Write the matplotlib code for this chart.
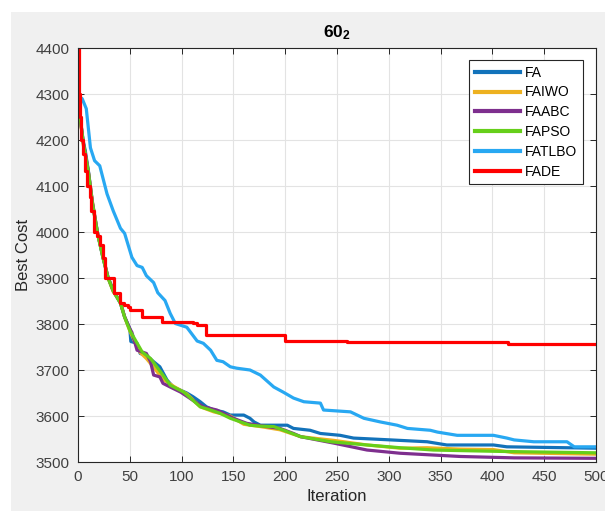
import matplotlib.pyplot as plt
from matplotlib.patches import Rectangle

plt.rcParams['font.family'] = ['Liberation Sans', 'DejaVu Sans']
plt.rcParams['mathtext.fontset'] = 'custom'
plt.rcParams['mathtext.rm'] = 'Liberation Sans'
plt.rcParams['mathtext.bf'] = 'Liberation Sans:bold'

# convergence curves: (iteration, best cost) breakpoints
fa_it = [0, 2, 5, 7, 10, 14, 19, 24, 29, 34, 41, 45, 50, 51, 57, 60, 66, 73, 79, 86,
         92, 99, 105, 111, 118, 124, 131, 140, 147, 160, 166, 170, 176, 202, 208, 224,
         234, 253, 266, 302, 337, 356, 401, 414, 472, 500]
fa_cost = [4290, 4250, 4198, 4177, 4133, 4062, 3997, 3945, 3901, 3873, 3845, 3815, 3790,
           3762, 3758, 3736, 3732, 3718, 3707, 3678, 3663, 3656, 3650, 3642, 3631, 3620,
           3613, 3609, 3602, 3602, 3595, 3587, 3580, 3580, 3573, 3569, 3562, 3558, 3552,
           3548, 3544, 3537, 3537, 3533, 3531, 3530]

faiwo_it = [0, 3, 5, 10, 14, 19, 24, 29, 34, 41, 45, 50, 55, 60, 66, 73, 82, 92, 105,
            118, 131, 147, 160, 176, 195, 215, 247, 279, 311, 337, 369, 401, 421, 500]
faiwo_cost = [4280, 4230, 4190, 4130, 4065, 3995, 3950, 3900, 3870, 3848, 3815, 3785,
              3760, 3738, 3725, 3706, 3680, 3665, 3648, 3620, 3609, 3600, 3582, 3577,
              3570, 3555, 3547, 3537, 3530, 3531, 3528, 3527, 3520, 3517]

faabc_it = [0, 2, 5, 10, 14, 19, 24, 29, 34, 41, 45, 50, 52, 57, 66, 70, 73, 79, 82, 89,
            99, 111, 121, 134, 150, 163, 182, 195, 208, 215, 247, 279, 311, 369, 421, 500]
faabc_cost = [4285, 4250, 4196, 4132, 4063, 3996, 3946, 3902, 3872, 3846, 3816, 3790,
              3782, 3743, 3736, 3718, 3689, 3685, 3671, 3663, 3652, 3634, 3620, 3613,
              3595, 3584, 3577, 3573, 3562, 3555, 3541, 3526, 3519, 3512, 3509, 3508]

fapso_it = [0, 2, 5, 10, 14, 19, 24, 29, 34, 41, 45, 50, 62, 70, 76, 82, 89, 95, 102,
            111, 118, 128, 137, 147, 157, 166, 176, 189, 202, 215, 244, 279, 311, 343,
            408, 500]
fapso_cost = [4285, 4250, 4195, 4130, 4060, 3995, 3945, 3900, 3872, 3845, 3815, 3786,
              3739, 3725, 3707, 3689, 3667, 3660, 3652, 3634, 3620, 3613, 3606, 3595,
              3587, 3580, 3578, 3577, 3566, 3555, 3544, 3537, 3531, 3526, 3523, 3520]

fatlbo_it = [0, 4, 8, 12, 16, 21, 28, 34, 41, 45, 52, 57, 62, 66, 73, 77, 84, 89, 94,
             105, 115, 121, 128, 134, 140, 147, 153, 166, 176, 189, 198, 208, 218, 234,
             237, 263, 276, 292, 308, 318, 340, 347, 366, 401, 414, 421, 440, 472, 479,
             500]
fatlbo_cost = [4295, 4290, 4268, 4183, 4155, 4144, 4083, 4046, 4008, 3997, 3945, 3927,
               3923, 3905, 3890, 3868, 3851, 3823, 3801, 3793, 3763, 3758, 3743, 3721,
               3718, 3707, 3704, 3700, 3689, 3663, 3652, 3639, 3631, 3628, 3613, 3609,
               3595, 3587, 3580, 3573, 3569, 3565, 3558, 3558, 3552, 3548, 3544, 3544,
               3533, 3533]

fade_it = [0, 1, 2, 3, 5, 7, 9, 12, 13, 15, 18, 21, 24, 26, 35, 41, 44, 48, 50, 62, 81,
           111, 115, 124, 200, 260, 415, 500]
fade_cost = [4400, 4300, 4250, 4200, 4170, 4133, 4100, 4075, 4046, 4000, 3992, 3971,
             3943, 3899, 3867, 3845, 3841, 3836, 3830, 3815, 3804, 3802, 3797, 3775,
             3763, 3760, 3757, 3757]

series = [
    ('FA', fa_it, fa_cost, '#1272BA', 'default'),
    ('FAIWO', faiwo_it, faiwo_cost, '#EDB120', 'default'),
    ('FAABC', faabc_it, faabc_cost, '#7E2F8E', 'default'),
    ('FAPSO', fapso_it, fapso_cost, '#66CF1A', 'default'),
    ('FATLBO', fatlbo_it, fatlbo_cost, '#28A8F2', 'default'),
    ('FADE', fade_it, fade_cost, '#FF0000', 'steps-post'),
]

W, H = 605, 511
fig = plt.figure(figsize=(W / 100, H / 100), dpi=100, facecolor='white')
fig.patches.append(Rectangle((11 / W, 0), 1, (H - 12) / H, transform=fig.transFigure,
                             facecolor='#f0f0f0', edgecolor='none', zorder=-10))

ax = fig.add_axes([78 / W, (H - 462) / H, (596 - 78) / W, (462 - 48) / H])
ax.set_facecolor('white')

for name, it, cost, color, ds in series:
    ax.plot(it, cost, color=color, lw=2.3, drawstyle=ds, label=name)

ax.set_xlim(0, 500)
ax.set_ylim(3500, 4400)
ax.set_xticks(range(0, 501, 50))
ax.set_yticks(range(3500, 4401, 100))
ax.grid(True, color='#e3e3e3', lw=0.8)
ax.set_axisbelow(True)
ax.tick_params(direction='in', length=4, width=0.7, colors='#262626',
               labelcolor='#404040', labelsize=11, top=True, right=True, pad=6)
for s in ax.spines.values():
    s.set_color('#262626')
    s.set_linewidth(0.8)

ax.set_xlabel('Iteration', fontsize=12, color='#262626', labelpad=3)
ax.set_ylabel('Best Cost', fontsize=12, color='#262626', labelpad=3)
ax.set_title(r'$\mathbf{60_2}$', fontsize=12.5, color='black', pad=8)

leg = ax.legend(loc='upper right', bbox_to_anchor=((583 - 78) / (596 - 78), 1 - 12 / 414),
                fontsize=10, frameon=True, fancybox=False, framealpha=1,
                edgecolor='#262626', handlelength=3.3, handletextpad=0.35,
                labelspacing=0.42, borderaxespad=0, borderpad=0.4)
leg.get_frame().set_linewidth(0.8)
for line in leg.get_lines():
    line.set_linewidth(3)

fig.savefig('out.png', dpi=100)
